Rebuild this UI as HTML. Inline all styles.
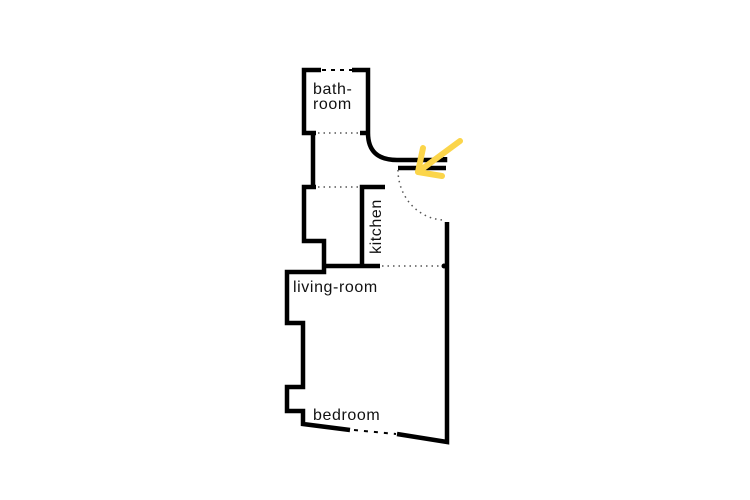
<!DOCTYPE html>
<html><head><meta charset="utf-8"><style>
html,body{margin:0;padding:0;background:#fff;}
svg{display:block}
text{font-family:"Liberation Sans","DejaVu Sans",sans-serif;font-size:16px;letter-spacing:0.6px;fill:#111;}
</style></head><body>
<svg width="750" height="500" viewBox="0 0 750 500" xmlns="http://www.w3.org/2000/svg">
<g fill="none" stroke="#000" stroke-width="4.5" stroke-linecap="butt" stroke-linejoin="miter">
<polyline points="321,70 304,70 304,133 316,133"/>
<polyline points="352,70 368,70 368,133"/>
<line x1="360" y1="133" x2="368" y2="133"/>
<path d="M368,133 Q368,160 397,160 L445,160 L445,157"/>
<line x1="398" y1="168" x2="446" y2="168"/>
<line x1="313" y1="133" x2="313" y2="187"/>
<polyline points="316,187 304,187 304,241 324,241 324,272 287,272 287,323 303,323 303,387 287,387 287,411 303,411 303,424 350,430"/>
<polyline points="385,187 362,187 362,266"/>
<line x1="324" y1="266" x2="380" y2="266"/>
<polyline points="397,434 447,442 447,222"/>
</g>
<g fill="none" stroke="#555" stroke-width="1.5" stroke-dasharray="1.5,4">
<line x1="322" y1="70" x2="352" y2="70" stroke="#000" stroke-width="2" stroke-dasharray="4,5"/>
<line x1="318" y1="133" x2="360" y2="133"/>
<line x1="318" y1="187" x2="360" y2="187"/>
<line x1="382" y1="266" x2="443" y2="266"/>
<path d="M398,170 A47,50 0 0 0 445,220"/>
<line x1="354" y1="430" x2="396" y2="434" stroke="#000" stroke-width="2" stroke-dasharray="4,6"/>
</g>
<circle cx="444" cy="266" r="2.5" fill="#000"/>
<g stroke="#fbd54a" stroke-width="6" stroke-linecap="round" fill="none" stroke-linejoin="round">
<line x1="460" y1="141" x2="418" y2="172"/>
<polyline points="423,148 418,172 442,176"/>
</g>
<text x="313" y="94">bath-</text>
<text x="313" y="109">room</text>
<text x="293" y="292">living-room</text>
<text x="313" y="420">bedroom</text>
<text transform="translate(381,254) rotate(-90)">kitchen</text>
</svg>
</body></html>
